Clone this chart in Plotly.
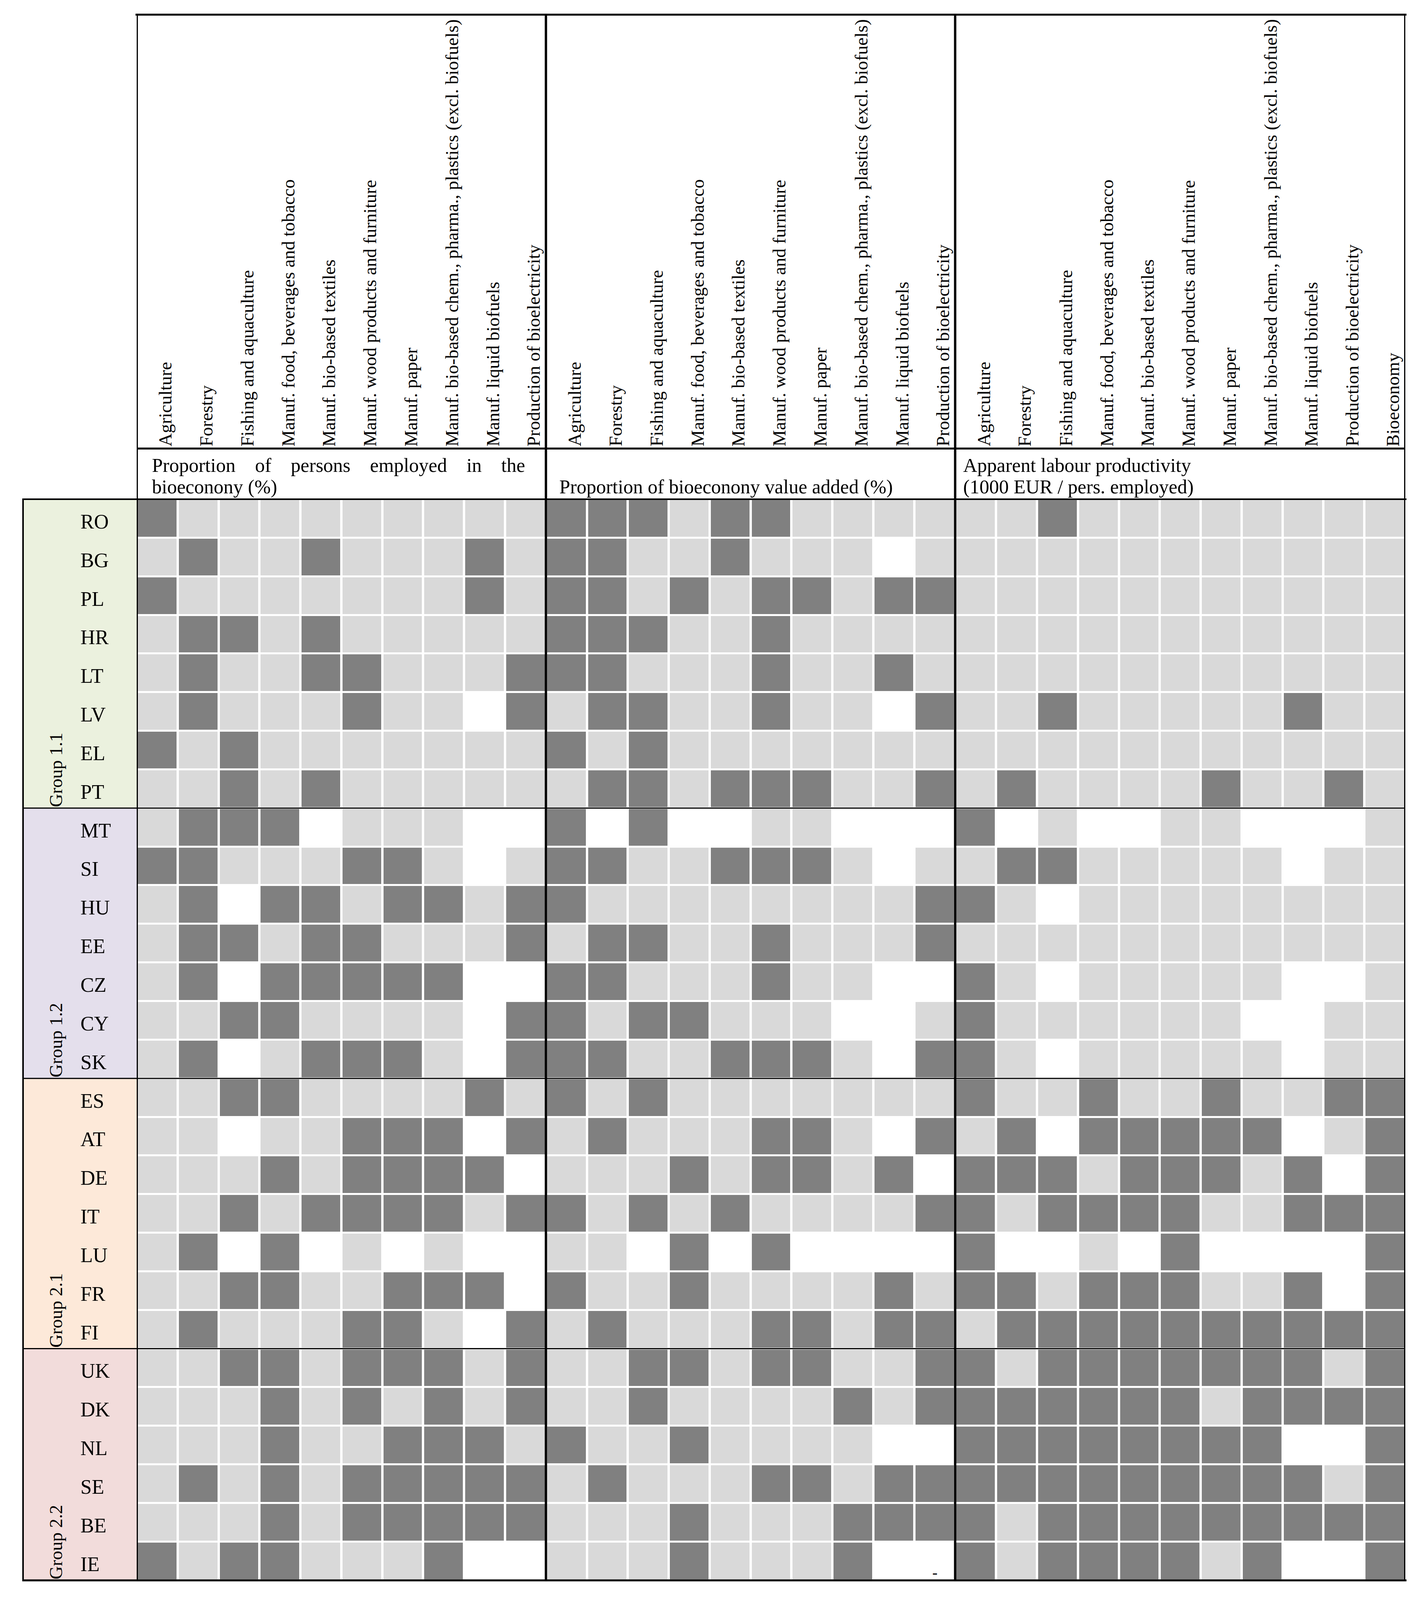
import plotly.graph_objects as go

countries = ["RO", "BG", "PL", "HR", "LT", "LV", "EL", "PT",
             "MT", "SI", "HU", "EE", "CZ", "CY", "SK",
             "ES", "AT", "DE", "IT", "LU", "FR", "FI",
             "UK", "DK", "NL", "SE", "BE", "IE"]

groups = [("Group 1.1", 0, 7, "#EBF1DE"),
          ("Group 1.2", 8, 14, "#E4DFEC"),
          ("Group 2.1", 15, 21, "#FDE9D9"),
          ("Group 2.2", 22, 27, "#F2DCDB")]

sectors = ["Agriculture", "Forestry", "Fishing and aquaculture",
           "Manuf. food, beverages and tobacco", "Manuf. bio-based textiles",
           "Manuf. wood products and furniture", "Manuf. paper",
           "Manuf. bio-based chem., pharma., plastics (excl. biofuels)",
           "Manuf. liquid biofuels", "Production of bioelectricity"]
productivity_cols = sectors + ["Bioeconomy"]

# D = dark grey, L = light grey, W = white
employment = ["DLLLLLLLLL", "LDLLDLLLDL", "DLLLLLLLDL", "LDDLDLLLLL",
              "LDLLDDLLLD", "LDLLLDLLWD", "DLDLLLLLLL", "LLDLDLLLLL",
              "LDDDWLLLWW", "DDLLLDDLWL", "LDWDDLDDLD", "LDDLDDLLLD",
              "LDWDDDDDWW", "LLDDLLLLWD", "LDWLDDDLWD",
              "LLDDLLLLDL", "LLWLLDDDWD", "LLLDLDDDDW", "LLDLDDDDLD",
              "LDWDWLWLWW", "LLDDLLDDDW", "LDLLLDDLWD",
              "LLDDLDDDLD", "LLLDLDLDLD", "LLLDLLDDDL", "LDLDLDDDDD",
              "LLLDLDDDDD", "DLDDLLLDWW"]

value_added = ["DDDLDDLLLL", "DDLLDLLLWL", "DDLDLDDLDD", "DDDLLDLLLL",
               "DDLLLDLLDL", "LDDLLDLLWD", "DLDLLLLLLL", "LDDLDDDLLD",
               "DWDWWLLWWW", "DDLLDDDLWL", "DLLLLLLLLD", "LDDLLDLLLD",
               "DDLLLDLLWW", "DLDDLLLWWL", "DDLLDDDLWD",
               "DLDLLLLLLL", "LDLLLDDLWD", "LLLDLDDLDW", "DLDLDLLLLD",
               "LLWDWDWWWW", "DLLDLLLLDL", "LDLLLDDLDD",
               "LLDDLDDLLD", "LLDLLLLDLD", "DLLDLLLLWW", "LDLLLDDLDD",
               "LLLDLLLDDD", "LLLDLLLDWW"]

productivity = ["LLDLLLLLLLL", "LLLLLLLLLLL", "LLLLLLLLLLL", "LLLLLLLLLLL",
                "LLLLLLLLLLL", "LLDLLLLLDLL", "LLLLLLLLLLL", "LDLLLLDLLDL",
                "DWLWWLLWWWL", "LDDLLLLLWLL", "DLWLLLLLLLL", "LLLLLLLLLLL",
                "DLWLLLLLWWL", "DLLLLLLWWLL", "DLWLLLLLWLL",
                "DLLDLLDLLDD", "LDWDDDDDWLD", "DDDLDDDLDWD", "DLDDDDLLDDD",
                "DWWLWDWWWWD", "DDLDDDLLDWD", "LDDDDDDDDDD",
                "DLDDDDDDDLD", "DDDDDDLDDDD", "DDDDDDDDWWD", "DDDDDDDDDLD",
                "DLDDDDDDDDD", "DLDDDDLDWWD"]

level = {"W": 0, "L": 1, "D": 2}
columns = sectors + sectors + productivity_cols
z = [[level[c] for c in employment[r] + value_added[r] + productivity[r]]
     for r in range(len(countries))]

# the page shows 3651 x 4096, body margin 8px; layout measured on the 3651 x 4801 original
REF_H = 4801
VIEW_H = 4096
SY = VIEW_H / REF_H
FW, FH = 3635, 4080
MARGIN = 8

GX0, GX1 = 350, 3598
GY0, GY1 = 1498, 4742
HEAD_TOP, HEAD_LINE = 44, 1346
LAB_X0 = 59
FONT = "Liberation Serif"


def px(x):
    return (x - MARGIN) / FW


def py(y):
    return 1 - (y * SY - MARGIN) / FH


fig = go.Figure(go.Heatmap(
    z=z, x=list(range(len(columns))), y=list(range(len(countries))),
    zmin=0, zmax=2, showscale=False, hoverinfo="skip",
    xgap=6, ygap=5,
    colorscale=[[0, "#FFFFFF"], [0.33, "#FFFFFF"], [0.33, "#D9D9D9"],
                [0.67, "#D9D9D9"], [0.67, "#808080"], [1, "#808080"]],
))

shapes = []
annotations = []

for name, a, b, col in groups:
    shapes.append(dict(type="rect", xref="paper", yref="y", layer="below",
                       x0=px(LAB_X0), x1=px(GX0), y0=a - 0.5, y1=b + 0.5,
                       fillcolor=col, line=dict(width=0)))
    annotations.append(dict(text=name, xref="paper", yref="y", x=px(143), y=b + 0.5,
                            xanchor="center", yanchor="bottom", textangle=-90,
                            showarrow=False, font=dict(size=47)))

# group separators
for _, a, b, _ in groups[:-1]:
    shapes.append(dict(type="line", xref="paper", yref="y", x0=px(LAB_X0), x1=px(GX1),
                       y0=b + 0.5, y1=b + 0.5, line=dict(color="black", width=3)))

# panel borders
for xb in [-0.5, 9.5, 19.5, 30.5]:
    shapes.append(dict(type="line", xref="x", yref="paper", x0=xb, x1=xb,
                       y0=py(HEAD_TOP), y1=py(GY1), line=dict(color="black", width=6)))
shapes.append(dict(type="line", xref="paper", yref="paper", x0=px(GX0 - 3), x1=px(GX1 + 3),
                   y0=py(HEAD_TOP), y1=py(HEAD_TOP), line=dict(color="black", width=5)))
shapes.append(dict(type="line", xref="paper", yref="paper", x0=px(GX0), x1=px(GX1),
                   y0=py(HEAD_LINE), y1=py(HEAD_LINE), line=dict(color="black", width=5)))
for yb, w in [(GY0, 4), (GY1, 5)]:
    shapes.append(dict(type="line", xref="paper", yref="paper", x0=px(LAB_X0 - 2), x1=px(GX1 + 3),
                       y0=py(yb), y1=py(yb), line=dict(color="black", width=w)))
shapes.append(dict(type="line", xref="paper", yref="paper", x0=px(LAB_X0), x1=px(LAB_X0),
                   y0=py(GY0), y1=py(GY1), line=dict(color="black", width=4)))

# rotated column headers
for i, lab in enumerate(columns):
    annotations.append(dict(text=lab, xref="x", yref="paper", x=i + 0.47, y=py(1342),
                            xanchor="right", yanchor="bottom", textangle=-90,
                            showarrow=False, font=dict(size=47)))

# row labels
for i, c in enumerate(countries):
    annotations.append(dict(text=c, xref="paper", yref="y", x=px(204), y=i + 0.08,
                            xanchor="left", yanchor="middle", showarrow=False,
                            font=dict(size=52)))

sp = "\u00a0" * 4
subtitles = [
    (sp.join(["Proportion", "of", "persons", "employed", "in", "the"]), 387, 1396),
    ("bioeconony (%)", 387, 1461),
    ("Proportion of bioeconony value added (%)", 1430, 1461),
    ("Apparent labour productivity", 2464, 1396),
    ("(1000 EUR / pers. employed)", 2464, 1461),
]
for txt, x, y in subtitles:
    annotations.append(dict(text=txt, xref="paper", yref="paper", x=px(x), y=py(y),
                            xanchor="left", yanchor="middle", showarrow=False,
                            font=dict(size=50)))

# missing value marker (IE, bioelectricity value added)
annotations.append(dict(text="-", xref="x", yref="y", x=19, y=27.3, showarrow=False,
                        font=dict(size=40)))

fig.update_layout(
    width=FW, height=FH, margin=dict(l=0, r=0, t=0, b=0),
    paper_bgcolor="white", plot_bgcolor="white",
    font=dict(family=FONT, color="black"),
    xaxis=dict(domain=[px(GX0), px(GX1)], range=[-0.5, len(columns) - 0.5], visible=False),
    yaxis=dict(domain=[py(GY1), py(GY0)], range=[len(countries) - 0.5, -0.5], visible=False),
    shapes=shapes, annotations=annotations,
)

fig.write_html("out.html")
